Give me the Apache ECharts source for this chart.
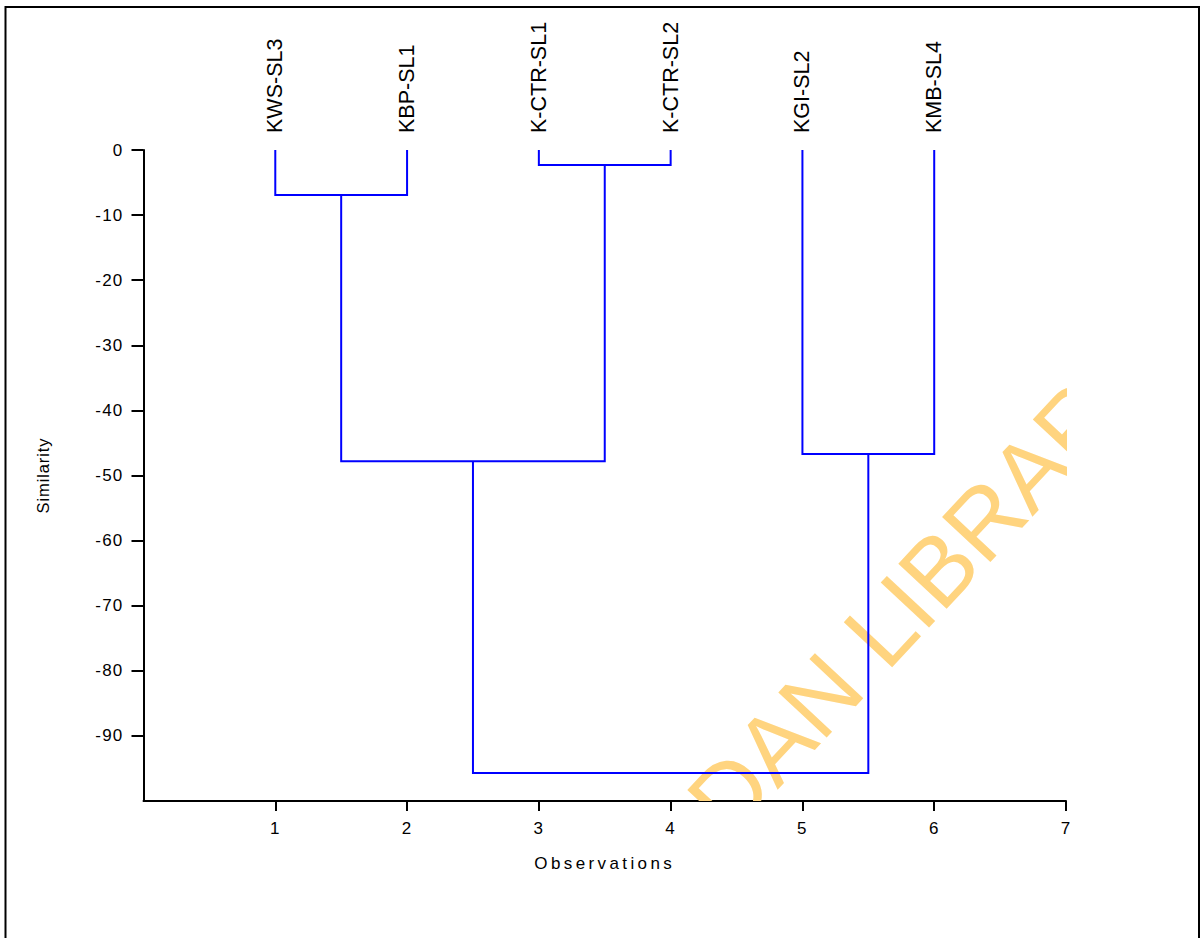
<!DOCTYPE html>
<html>
<head>
<meta charset="utf-8">
<script src="https://cdn.jsdelivr.net/npm/echarts@6/dist/echarts.min.js"></script>
<style>
html,body{margin:0;padding:0;background:#fff;}
#chart{width:1203px;height:938px;}
</style>
</head>
<body>
<div id="chart"></div>
<script>
// Leaves (observations) in dendrogram order
const leafLabels = ['KWS-SL3', 'KBP-SL1', 'K-CTR-SL1', 'K-CTR-SL2', 'KGI-SL2', 'KMB-SL4'];
const leafX = [1, 2, 3, 4, 5, 6];
// Merges: node indices (0-5 leaves, 6.. merge results in order) and merge level (similarity)
const mergeLeft = [0, 2, 4, 6, 9];
const mergeRight = [1, 3, 5, 7, 8];
const mergeLevel = [-6.9, -2.3, -46.7, -47.8, -95.7];
// Axis ticks
const xTicks = [1, 2, 3, 4, 5, 6, 7];
const yTicks = [0, -10, -20, -30, -40, -50, -60, -70, -80, -90];
const watermarkText = 'UNIVERSITY OF IBADAN LIBRARY';
const watermarkAnchor = [7.57, -30.9];

// Build node positions
const nodeX = leafX.slice();
const nodeH = leafX.map(() => 0);
const segs = [];
for (let i = 0; i < mergeLevel.length; i++) {
  const l = mergeLeft[i], r = mergeRight[i], h = mergeLevel[i];
  segs.push({coords: [[nodeX[l], nodeH[l]], [nodeX[l], h], [nodeX[r], h], [nodeX[r], nodeH[r]]]});
  nodeX.push((nodeX[l] + nodeX[r]) / 2);
  nodeH.push(h);
}

const chart = echarts.init(document.getElementById('chart'), null, {renderer: 'svg'});
const font = '"Liberation Sans", Arial, sans-serif';
chart.setOption({
  backgroundColor: '#ffffff',
  animation: false,
  graphic: [{
    type: 'rect', z: 100,
    shape: {x: 5.5, y: 7, width: 1193.5, height: 960},
    style: {fill: 'none', stroke: '#000', lineWidth: 2}
  }],
  grid: {left: 143.5, right: 137, top: 150, bottom: 137, containLabel: false},
  xAxis: [{
    type: 'value', position: 'bottom', min: 0, max: 7, interval: 1,
    name: 'Observations', nameLocation: 'middle', nameGap: 54,
    nameTextStyle: {color: '#000', fontSize: 17, fontFamily: font},
    axisLine: {show: true, onZero: false, lineStyle: {color: '#000', width: 2}},
    axisTick: {show: true, length: 10, lineStyle: {color: '#000', width: 2}, customValues: xTicks},
    axisLabel: {color: '#000', fontSize: 17, fontFamily: font, margin: 19, customValues: xTicks},
    splitLine: {show: false}
  }, {
    type: 'value', position: 'top', min: 0, max: 7, interval: 1,
    axisLine: {show: false}, axisTick: {show: false},
    axisLabel: {color: '#000', fontSize: 21.5, fontFamily: font, rotate: 90, margin: 17,
      customValues: leafX, formatter: v => leafLabels[leafX.indexOf(v)] || ''},
    splitLine: {show: false}
  }],
  yAxis: {
    type: 'value', min: -100, max: 0, interval: 10,
    name: 'Similarity', nameLocation: 'middle', nameGap: 92,
    nameTextStyle: {color: '#000', fontSize: 16.5, fontFamily: font},
    axisLine: {show: true, onZero: false, lineStyle: {color: '#000', width: 2}},
    axisTick: {show: true, length: 12, lineStyle: {color: '#000', width: 2}, customValues: yTicks},
    axisLabel: {color: '#000', fontSize: 17, fontFamily: font, margin: 20, customValues: yTicks},
    splitLine: {show: false}
  },
  series: [{
    type: 'custom', clip: true, z: 1, silent: true,
    data: [watermarkAnchor],
    renderItem: function (params, api) {
      const p = api.coord([api.value(0), api.value(1)]);
      return {
        type: 'text', x: p[0], y: p[1], rotation: 47 * Math.PI / 180,
        style: {text: watermarkText, fill: '#FFD47F', font: 'normal 96px ' + font,
          align: 'right', verticalAlign: 'middle'}
      };
    }
  }, {
    type: 'lines', coordinateSystem: 'cartesian2d', polyline: true, z: 5,
    lineStyle: {color: '#0000FF', width: 2, opacity: 1},
    data: segs
  }]
});

// The reference typesetting uses loose letter spacing for axis text
function applySpacing() {
  const texts = document.querySelectorAll('#chart svg text');
  texts.forEach(t => {
    const s = t.textContent;
    if (s === 'Observations') t.style.letterSpacing = '3.4px';
    else if (s === 'Similarity') t.style.letterSpacing = '0.9px';
    else if (/^-?\d+$/.test(s)) t.style.letterSpacing = '1.2px';
  });
}
chart.on('finished', applySpacing);
applySpacing();
setTimeout(applySpacing, 50);
</script>
</body>
</html>
